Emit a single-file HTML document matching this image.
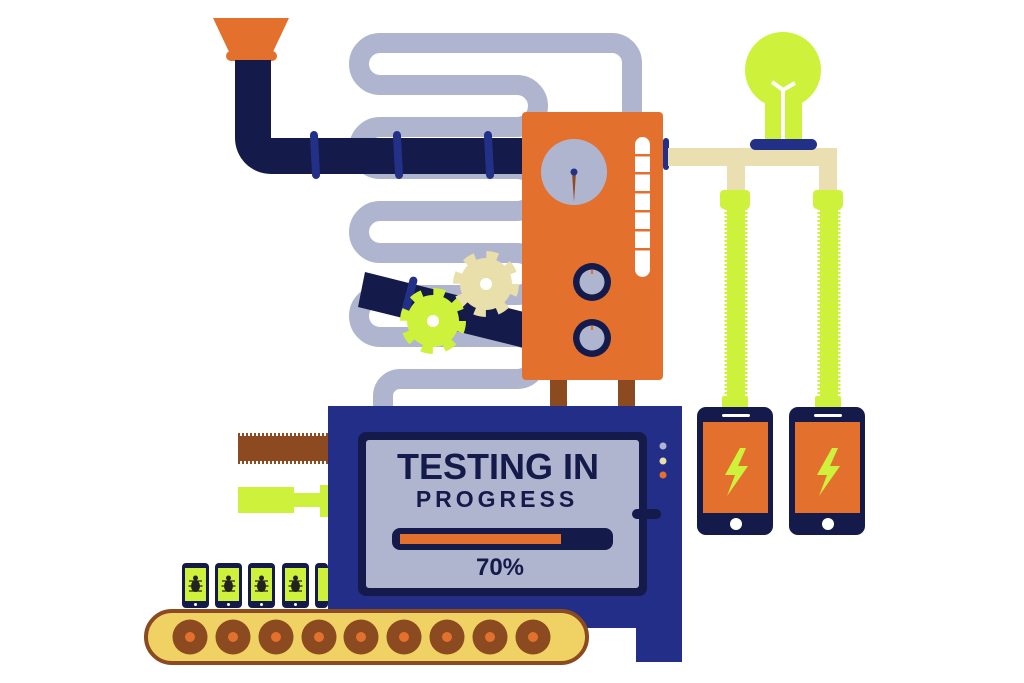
<!DOCTYPE html>
<html><head><meta charset="utf-8"><style>
html,body{margin:0;padding:0;background:#fff;}
svg{display:block;}
text{font-family:"Liberation Sans",sans-serif;font-weight:bold;fill:#141a4a;}
</style></head><body>
<svg width="1024" height="683" viewBox="0 0 1024 683" xmlns="http://www.w3.org/2000/svg">
<path d="M632,115 V63 A20,20 0 0 0 612,43 H380 A21,21 0 0 0 380,85 H517 A21,21 0 0 1 517,127 H380 A21,21 0 0 0 380,169 H517 A21,21 0 0 1 517,211 H380 A21,21 0 0 0 380,253 H517 A21,21 0 0 1 517,295 H380 A21,21 0 0 0 380,337 H517 A21,21 0 0 1 517,379 H400 A17,17 0 0 0 383,396 V412" fill="none" stroke="#b0b5cf" stroke-width="20"/>
<polygon points="213,18 289,18 272,54 230,54" fill="#e4702e"/>
<rect x="226" y="51" width="51" height="10" rx="5" fill="#e4702e"/>
<path d="M235,60 H271 V138 H524 V174 H271 A36,36 0 0 1 235,138 Z" fill="#141a4a"/>
<g fill="#233087">
<rect x="311" y="131" width="8" height="48" rx="4" transform="rotate(-3 315 155)"/>
<rect x="394" y="131" width="8" height="48" rx="4" transform="rotate(-3 398 155)"/>
<rect x="485" y="131" width="8" height="48" rx="4" transform="rotate(-3 489 155)"/>
</g>
<polygon points="365,272 524,312 524,348 358,307" fill="#141a4a"/>
<rect x="405" y="276" width="8" height="42" rx="4" transform="rotate(15 409 297)" fill="#233087"/>
<circle cx="486" cy="284" r="26" fill="#e9dfaa"/>
<circle cx="486" cy="284" r="29" fill="none" stroke="#e9dfaa" stroke-width="8" stroke-dasharray="11.4 11.4"/>
<circle cx="486" cy="284" r="6" fill="#fff"/>
<circle cx="433" cy="321" r="26" fill="#cef23b"/>
<circle cx="433" cy="321" r="29" fill="none" stroke="#cef23b" stroke-width="8" stroke-dasharray="11.4 11.4"/>
<circle cx="433" cy="321" r="6" fill="#fff"/>
<rect x="550" y="375" width="17" height="32" fill="#8b4a1f"/>
<rect x="618" y="375" width="17" height="32" fill="#8b4a1f"/>
<rect x="522" y="112" width="141" height="268" rx="4" fill="#e4702e"/>
<rect x="663" y="138" width="6" height="32" rx="3" fill="#233087"/>
<circle cx="574" cy="172" r="33" fill="#b0b5cf"/>
<polygon points="572,172 576,172 574,202" fill="#8b4a1f"/>
<circle cx="574" cy="172" r="3.5" fill="#233087"/>
<rect x="635" y="137" width="15" height="140" rx="7.5" fill="#fff"/>
<g fill="#e4702e">
<rect x="635" y="154" width="15" height="2.5"/><rect x="635" y="172" width="15" height="2.5"/>
<rect x="635" y="191" width="15" height="2.5"/><rect x="635" y="210" width="15" height="2.5"/>
<rect x="635" y="229" width="15" height="2.5"/><rect x="635" y="248" width="15" height="2.5"/>
</g>
<circle cx="592" cy="282" r="19" fill="#141a4a"/><circle cx="592" cy="282" r="12.5" fill="#b0b5cf"/>
<rect x="591" y="270" width="2" height="4" fill="#e4702e"/>
<circle cx="592" cy="338" r="19" fill="#141a4a"/><circle cx="592" cy="338" r="12.5" fill="#b0b5cf"/>
<rect x="591" y="326" width="2" height="4" fill="#e4702e"/>
<path d="M668,148 H837 V192 H819 V166 H745 V192 H727 V166 H668 Z" fill="#e9dfb0"/>
<circle cx="783" cy="70" r="38" fill="#cef23b"/>
<rect x="765" y="90" width="37" height="52" fill="#cef23b"/>
<path d="M783,142 V88 M772,82 L783,90 L795,83" stroke="#fff" stroke-width="4" fill="none"/>
<rect x="750" y="139" width="67" height="11" rx="5.5" fill="#233087"/>
<g fill="#cef23b">
<rect x="720" y="190" width="30" height="19" rx="4"/>
<rect x="813" y="190" width="30" height="19" rx="4"/>
<rect x="727" y="205" width="18" height="195"/>
<rect x="820" y="205" width="18" height="195"/>
<rect x="722" y="396" width="26" height="14" rx="2"/>
<rect x="815" y="396" width="26" height="14" rx="2"/>
</g>
<g stroke="#cef23b" stroke-width="3" stroke-dasharray="2 2">
<line x1="726" y1="208" x2="726" y2="398"/><line x1="746" y1="208" x2="746" y2="398"/>
<line x1="819" y1="208" x2="819" y2="398"/><line x1="839" y1="208" x2="839" y2="398"/>
</g>
<g>
<rect x="697" y="407" width="76" height="128" rx="9" fill="#141a4a"/>
<rect x="703" y="422" width="65" height="91" fill="#e4702e"/>
<rect x="722" y="414" width="28" height="3" rx="1.5" fill="#fff"/>
<circle cx="736" cy="524" r="6" fill="#fff"/>
<polygon points="740,448 725,475 735,475 727,496 748,466 738,466 746,448" fill="#cef23b"/>
<rect x="789" y="407" width="76" height="128" rx="9" fill="#141a4a"/>
<rect x="795" y="422" width="65" height="91" fill="#e4702e"/>
<rect x="814" y="414" width="28" height="3" rx="1.5" fill="#fff"/>
<circle cx="828" cy="524" r="6" fill="#fff"/>
<polygon points="832,448 817,475 827,475 819,496 840,466 830,466 838,448" fill="#cef23b"/>
</g>
<rect x="238" y="436" width="92" height="25" fill="#8b4a1f"/>
<g stroke="#8b4a1f" stroke-width="3" stroke-dasharray="2 2">
<line x1="238" y1="434.5" x2="330" y2="434.5"/><line x1="238" y1="462.5" x2="330" y2="462.5"/>
</g>
<rect x="238" y="487" width="56" height="26" fill="#cef23b"/>
<rect x="293" y="493" width="28" height="14" fill="#cef23b"/>
<rect x="320" y="485" width="9" height="32" fill="#cef23b"/>
<rect x="328" y="406" width="354" height="222" fill="#232e89"/>
<rect x="328" y="600" width="80" height="40" fill="#232e89"/>
<rect x="636" y="620" width="46" height="42" fill="#232e89"/>
<rect x="358" y="432" width="289" height="164" rx="8" fill="#141a4a"/>
<rect x="366" y="440" width="273" height="148" rx="3" fill="#b0b5cf"/>
<text x="498" y="479" font-size="36" text-anchor="middle">TESTING IN</text>
<text x="497" y="507" font-size="23" text-anchor="middle" letter-spacing="4">PROGRESS</text>
<rect x="392" y="528" width="221" height="22" rx="8" fill="#141a4a"/>
<rect x="400" y="534" width="161" height="10" fill="#e4702e"/>
<text x="500" y="575" font-size="24" text-anchor="middle">70%</text>
<circle cx="663" cy="446" r="3.5" fill="#b0b5cf"/>
<circle cx="663" cy="461" r="3.5" fill="#e9dfaa"/>
<circle cx="663" cy="475" r="3.5" fill="#e4702e"/>
<rect x="632" y="509" width="29" height="10" rx="5" fill="#141a4a"/>
<g>
<g id="sp">
<rect x="182" y="563" width="27" height="45" rx="4" fill="#141a4a"/>
<rect x="185" y="568" width="21" height="33" fill="#cef23b"/>
<circle cx="195.5" cy="604.5" r="1.5" fill="#fff"/>
<ellipse cx="195.5" cy="586" rx="4.5" ry="6" fill="#222"/>
<circle cx="195.5" cy="578" r="2.5" fill="#222"/>
<path d="M189,581 H202 M188.5,586 H202.5 M189,591 H202" stroke="#222" stroke-width="1.3"/>
</g>
<use href="#sp" x="33"/><use href="#sp" x="66"/><use href="#sp" x="100"/>
</g>
<rect x="315" y="563" width="13" height="45" rx="4" fill="#141a4a"/>
<rect x="318" y="568" width="10" height="33" fill="#cef23b"/>
<rect x="146" y="611" width="441" height="52" rx="26" fill="#f0d264" stroke="#8b4a1f" stroke-width="4"/>
<g fill="#8b4a1f">
<circle cx="190" cy="637" r="17.5"/><circle cx="233" cy="637" r="17.5"/><circle cx="276" cy="637" r="17.5"/>
<circle cx="319" cy="637" r="17.5"/><circle cx="361" cy="637" r="17.5"/><circle cx="404" cy="637" r="17.5"/>
<circle cx="447" cy="637" r="17.5"/><circle cx="490" cy="637" r="17.5"/><circle cx="533" cy="637" r="17.5"/>
</g>
<g fill="#e4702e">
<circle cx="190" cy="637" r="5"/><circle cx="233" cy="637" r="5"/><circle cx="276" cy="637" r="5"/>
<circle cx="319" cy="637" r="5"/><circle cx="361" cy="637" r="5"/><circle cx="404" cy="637" r="5"/>
<circle cx="447" cy="637" r="5"/><circle cx="490" cy="637" r="5"/><circle cx="533" cy="637" r="5"/>
</g>
</svg>
</body></html>
